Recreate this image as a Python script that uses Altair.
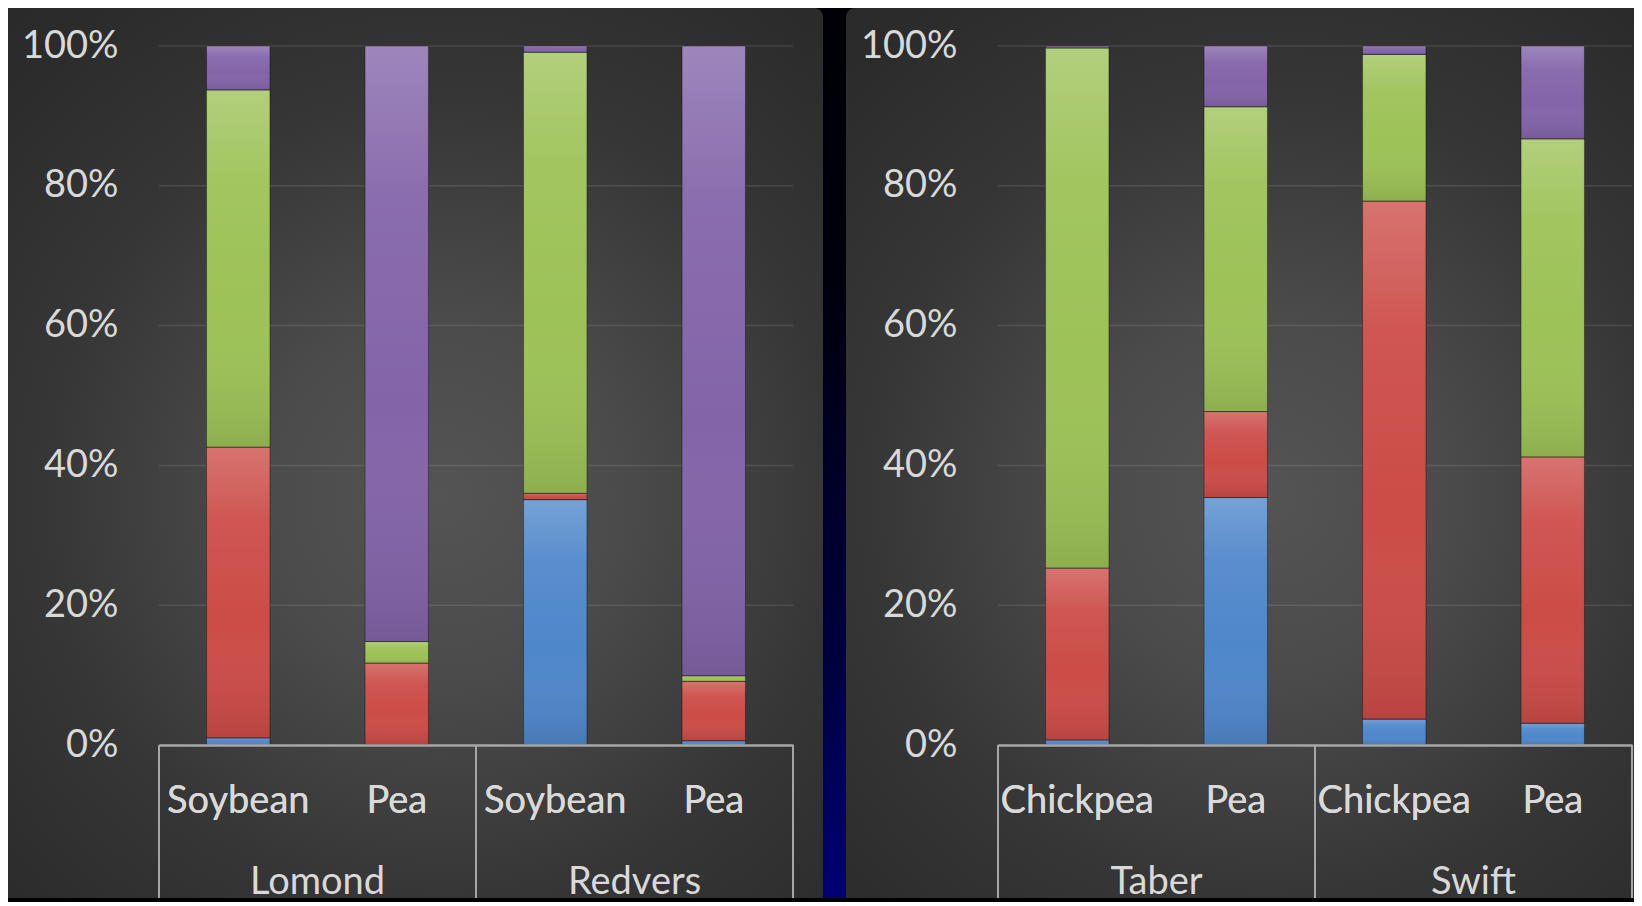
import altair as alt
import pandas as pd

# ---------------- data ----------------
sites = ["Lomond", "Lomond", "Redvers", "Redvers", "Taber", "Taber", "Swift", "Swift"]
crops = ["Soybean", "Pea", "Soybean", "Pea", "Chickpea", "Pea", "Chickpea", "Pea"]
panels = [1, 1, 1, 1, 2, 2, 2, 2]

series_names = ["Series 1", "Series 2", "Series 3", "Series 4"]
series_colors = ["#4f87cb", "#cc4c47", "#9dc257", "#8364a9"]

s1_blue = [1.0, 0.0, 35.1, 0.6, 0.7, 35.4, 3.7, 3.1]
s2_red = [41.6, 11.7, 0.9, 8.5, 24.6, 12.3, 74.1, 38.1]
s3_green = [51.1, 3.1, 63.1, 0.8, 74.4, 43.6, 21.0, 45.5]
s4_purple = [6.3, 85.2, 0.9, 90.1, 0.3, 8.7, 1.2, 13.3]

y_ticks = [0, 0.2, 0.4, 0.6, 0.8, 1.0]

# ---------------- build table ----------------
series_vals = [s1_blue, s2_red, s3_green, s4_purple]
rows = []
for i in range(len(sites)):
    for k, name in enumerate(series_names):
        rows.append({
            "panel": panels[i],
            "site": sites[i],
            "crop": crops[i],
            "slot": sites[i] + "|" + crops[i],
            "series": name,
            "sidx": k,
            "value": series_vals[k][i],
        })
df = pd.DataFrame(rows)
tick_df = pd.DataFrame({"t": y_ticks})

FONT = "Lato"
TXT = "#d9d9d9"
BOX = "#a6a6a6"
W, H = 634, 699
FS = 38

one = pd.DataFrame({"k": [0]})


def panel_grad(cx, cy):
    return alt.RadialGradient(
        gradient="radial",
        x1=cx, y1=cy, r1=0,
        x2=cx, y2=cy, r2=0.75,
        stops=[
            alt.GradientStop(color="#545454", offset=0),
            alt.GradientStop(color="#4b4b4b", offset=0.27),
            alt.GradientStop(color="#363636", offset=0.6),
            alt.GradientStop(color="#2b2b2b", offset=0.9),
            alt.GradientStop(color="#2a2a2a", offset=1),
        ],
    )


page_grad = alt.LinearGradient(
    gradient="linear", x1=0, y1=0, x2=0, y2=1,
    stops=[
        alt.GradientStop(color="#000006", offset=0),
        alt.GradientStop(color="#00000c", offset=0.3),
        alt.GradientStop(color="#000040", offset=0.75),
        alt.GradientStop(color="#000074", offset=1),
    ],
)

bar_grad = alt.LinearGradient(
    gradient="linear", x1=0, y1=0, x2=0, y2=1,
    stops=[
        alt.GradientStop(color="rgba(255,255,255,0.22)", offset=0),
        alt.GradientStop(color="rgba(255,255,255,0.06)", offset=0.25),
        alt.GradientStop(color="rgba(255,255,255,0.0)", offset=0.6),
        alt.GradientStop(color="rgba(0,0,0,0.10)", offset=1),
    ],
)

y_axis = alt.Axis(
    values=y_ticks, format=".0%", title=None, ticks=False, tickSize=0,
    domain=False, grid=False, labelPadding=41, labelFont=FONT, labelFontSize=FS,
    labelColor=TXT, orient="left", zindex=2,
)


def make_panel(pid):
    d = df[df.panel == pid]
    slots = list(dict.fromkeys(d.slot))
    site_list = list(dict.fromkeys(d.site))
    sdf = pd.DataFrame({"site": site_list})

    xs = alt.Scale(domain=slots, paddingInner=0.6, paddingOuter=0.3)
    x_enc = alt.X(
        "slot:N", scale=xs, sort=slots,
        axis=alt.Axis(
            title=None, labelExpr="split(datum.label, '|')[1]", orient="bottom",
            ticks=False, tickSize=0, domain=True, domainColor=BOX, domainWidth=2,
            labelPadding=56, labelBaseline="middle", labelAngle=0,
            labelFont=FONT, labelFontSize=FS, labelColor=TXT, grid=False,
            labelOverlap=False, zindex=2,
        ),
    )
    y_enc = alt.Y("value:Q", stack="normalize", scale=alt.Scale(domain=[0, 1]), axis=y_axis)
    order = alt.Order("sidx:Q", sort="ascending")

    if pid == 1:
        bg = alt.Chart(one).mark_rect(
            fill=panel_grad(0.53, 0.55), cornerRadiusTopRight=9
        ).encode(x=alt.value(-151), x2=alt.value(664), y=alt.value(-38), y2=alt.value(852))
    else:
        bg = alt.Chart(one).mark_rect(
            fill=panel_grad(0.53, 0.55), cornerRadiusTopLeft=9
        ).encode(x=alt.value(-152), x2=alt.value(636), y=alt.value(-38), y2=alt.value(852))

    grid = alt.Chart(tick_df).mark_rule(
        color="rgba(255,255,255,0.10)", strokeWidth=1.5
    ).encode(
        y=alt.Y("t:Q", scale=alt.Scale(domain=[0, 1]), axis=y_axis),
        x=alt.value(0), x2=alt.value(W),
    )

    bars = alt.Chart(d).mark_bar().encode(
        x=x_enc, y=y_enc,
        color=alt.Color("series:N", scale=alt.Scale(domain=series_names, range=series_colors), legend=None),
        order=order,
    )
    shade = alt.Chart(d).mark_bar(
        fill=bar_grad, stroke="rgba(0,0,0,0.35)", strokeWidth=1
    ).encode(x=x_enc, y=y_enc, detail="series:N", order=order)

    sx = alt.Scale(type="band", domain=site_list, paddingInner=0, paddingOuter=0)
    site_text = alt.Chart(sdf).mark_text(
        font=FONT, fontSize=FS, color=TXT, baseline="middle", align="center"
    ).encode(
        x=alt.X("site:N", scale=sx, sort=site_list, axis=None),
        y=alt.value(H + 138),
        text="site:N",
    )
    vl0 = alt.Chart(sdf).mark_rule(color=BOX, strokeWidth=2).encode(
        x=alt.X("site:N", scale=sx, sort=site_list, axis=None, bandPosition=0),
        y=alt.value(H), y2=alt.value(852),
    )
    vl1 = alt.Chart(sdf).mark_rule(color=BOX, strokeWidth=2).encode(
        x=alt.X("site:N", scale=sx, sort=site_list, axis=None, bandPosition=1),
        y=alt.value(H), y2=alt.value(852),
    )

    layers = [bg, grid, bars, shade, vl0, vl1, site_text]
    if pid == 1:
        page = alt.Chart(one).mark_rect(fill=page_grad).encode(
            x=alt.value(-151), x2=alt.value(1475), y=alt.value(-38), y2=alt.value(852)
        )
        layers = [page] + layers
    return alt.layer(*layers).resolve_scale(x="independent").properties(width=W, height=H)


chart = alt.hconcat(make_panel(1), make_panel(2), spacing=205, bounds="flush").properties(
    padding=0, background="#000000"
).configure_view(stroke=None)

chart.save("out.html", embed_options={"renderer": "svg", "actions": False})
